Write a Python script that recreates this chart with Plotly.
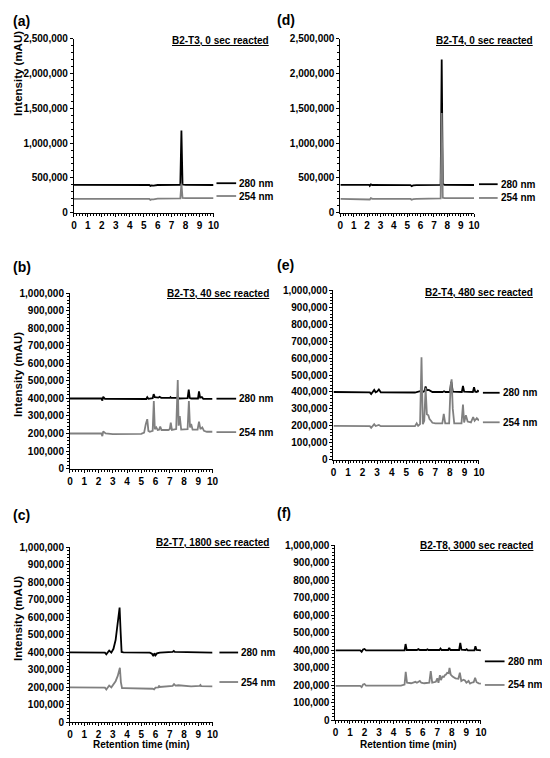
import plotly.graph_objects as go

# ---- chromatogram data (retention time in min, intensity in mAU) ----
# (a) B2-T3, 0 sec
a_t280 = [0, 2.3, 2.38, 2.45, 5.4, 5.48, 5.55, 5.7, 6.0, 7.62, 7.7, 7.78, 8.0, 10]
a_i280 = [400000, 400000, 408000, 400000, 398000, 385000, 392000, 390000, 398000, 400000, 1180000, 405000, 400000, 398000]
a_t254 = [0, 2.3, 2.38, 2.45, 5.4, 5.48, 5.55, 5.7, 6.0, 7.62, 7.7, 7.78, 8.0, 10]
a_i254 = [200000, 200000, 206000, 200000, 198000, 185000, 192000, 192000, 202000, 205000, 420000, 212000, 210000, 210000]

# (d) B2-T4, 0 sec
d_t280 = [0, 2.15, 2.2, 2.28, 2.4, 5.25, 5.33, 5.45, 5.7, 7.5, 7.58, 7.66, 7.8, 10]
d_i280 = [400000, 400000, 385000, 408000, 398000, 396000, 382000, 392000, 395000, 400000, 2200000, 410000, 400000, 398000]
d_t254 = [0, 2.15, 2.2, 2.28, 2.4, 5.25, 5.33, 5.45, 5.7, 7.5, 7.58, 7.66, 7.8, 10]
d_i254 = [200000, 200000, 190000, 210000, 200000, 198000, 186000, 195000, 198000, 205000, 1430000, 215000, 210000, 210000]

# (b) B2-T3, 40 sec
b_t280 = [0, 2.2, 2.27, 2.33, 2.45, 5.0, 5.35, 5.42, 5.5, 5.8, 5.87, 5.95, 6.2, 6.28, 6.4,
          7.0, 7.05, 7.1, 7.5, 7.57, 7.65, 8.25, 8.33, 8.4, 8.5, 8.98, 9.05, 9.13, 9.25, 9.35, 10]
b_i280 = [400000, 400000, 388000, 410000, 398000, 397000, 397000, 407000, 398000, 402000, 425000, 408000,
          405000, 410000, 404000, 403000, 408000, 403000, 403000, 410000, 400000, 402000, 450000, 403000,
          400000, 400000, 440000, 405000, 408000, 398000, 398000]
b_t254 = [0, 2.2, 2.27, 2.33, 2.5, 3.0, 5.0, 5.2, 5.32, 5.42, 5.5, 5.6, 5.8, 5.88, 5.95, 6.05, 6.15,
          6.25, 6.33, 6.42, 6.9, 7.0, 7.07, 7.15, 7.45, 7.56, 7.62, 7.7, 7.8, 8.25, 8.34, 8.42, 8.5, 8.6,
          8.95, 9.05, 9.15, 9.28, 9.4, 9.6, 10]
b_i254 = [200000, 200000, 185000, 212000, 200000, 196000, 198000, 205000, 255000, 282000, 215000, 210000,
          215000, 385000, 225000, 235000, 220000, 222000, 240000, 220000, 220000, 225000, 262000, 220000,
          225000, 505000, 245000, 300000, 222000, 225000, 385000, 235000, 255000, 222000,
          222000, 268000, 225000, 235000, 215000, 210000, 210000]

# (e) B2-T4, 480 sec
e_t280 = [0, 2.5, 2.59, 2.7, 2.8, 2.9, 3.0, 3.12, 3.25, 5.6, 5.8, 5.95, 6.1, 6.25, 6.33, 6.42, 6.55,
          6.7, 6.8, 7.5, 7.6, 7.7, 8.0, 8.1, 8.2, 8.82, 8.9, 8.98, 9.58, 9.66, 9.74, 9.85, 9.92, 10]
e_i280 = [400000, 398000, 388000, 400000, 412000, 398000, 402000, 415000, 398000, 397000, 400000, 405000,
          398000, 405000, 432000, 410000, 412000, 405000, 400000, 400000, 404000, 400000, 400000, 460000,
          402000, 400000, 436000, 402000, 400000, 428000, 402000, 400000, 407000, 402000]
e_t254 = [0, 2.5, 2.59, 2.7, 2.8, 2.9, 3.0, 3.12, 3.25, 5.6, 5.72, 5.82, 5.95, 6.05, 6.14, 6.24, 6.33,
          6.42, 6.52, 6.6, 6.7, 6.8, 7.0, 7.48, 7.58, 7.68, 7.95, 8.05, 8.12, 8.2, 8.3, 8.8, 8.9, 8.98,
          9.1, 9.22, 9.45, 9.6, 9.7, 9.85, 9.95, 10]
e_i254 = [200000, 198000, 188000, 202000, 210000, 199000, 200000, 205000, 198000, 198000, 215000, 200000,
          210000, 605000, 210000, 230000, 425000, 268000, 262000, 240000, 230000, 218000, 215000, 215000,
          271000, 215000, 215000, 440000, 475000, 300000, 215000, 215000, 325000, 220000, 262000, 225000,
          220000, 252000, 230000, 245000, 235000, 240000]

# (c) B2-T7, 1800 sec
c_t280 = [0, 2.45, 2.55, 2.65, 2.75, 2.9, 3.05, 3.2, 3.32, 3.42, 3.48, 3.55, 3.62, 3.75, 5.6, 5.75,
          5.85, 5.92, 6.0, 6.1, 6.3, 7.2, 7.28, 7.35, 8.5, 10]
c_i280 = [400000, 398000, 388000, 398000, 410000, 398000, 420000, 470000, 540000, 610000, 655000, 520000,
          402000, 400000, 398000, 392000, 378000, 395000, 383000, 394000, 398000, 402000, 408000, 402000,
          400000, 398000]
c_t254 = [0, 2.45, 2.55, 2.65, 2.75, 2.9, 3.05, 3.2, 3.35, 3.5, 3.57, 3.65, 3.8, 5.6, 5.8, 5.9, 6.0,
          6.2, 6.25, 6.3, 7.2, 7.3, 7.4, 7.6, 8.5, 9.1, 9.15, 9.2, 10]
c_i254 = [200000, 198000, 188000, 198000, 210000, 200000, 215000, 235000, 265000, 312000, 230000, 195000,
          195000, 196000, 192000, 188000, 198000, 200000, 210000, 202000, 208000, 218000, 210000, 212000,
          205000, 208000, 213000, 207000, 206000]

# (f) B2-T8, 3000 sec
f_t280 = [0, 1.7, 1.8, 1.9, 2.0, 2.1, 4.75, 4.82, 4.9, 5.6, 5.7, 5.8, 6.25, 6.32, 6.4, 7.15, 7.22, 7.3,
          7.75, 7.82, 7.9, 8.5, 8.58, 8.66, 8.95, 9.02, 9.1, 9.55, 9.62, 9.7, 10]
f_i280 = [400000, 400000, 392000, 405000, 408000, 400000, 400000, 436000, 402000, 402000, 407000, 402000,
          402000, 406000, 402000, 402000, 410000, 402000, 402000, 414000, 402000, 402000, 442000, 404000,
          402000, 407000, 400000, 400000, 424000, 402000, 400000]
f_t254 = [0, 1.7, 1.8, 1.9, 2.0, 2.1, 4.5, 4.75, 4.83, 4.92, 5.2, 5.5, 5.6, 5.8, 5.9, 6.1, 6.45, 6.55,
          6.65, 6.9, 7.0, 7.08, 7.18, 7.25, 7.35, 7.45, 7.52, 7.6, 7.68, 7.78, 7.84, 7.92, 8.05, 8.25,
          8.45, 8.55, 8.65, 8.8, 8.9, 9.0, 9.15, 9.25, 9.35, 9.5, 9.6, 9.7, 9.85, 10]
f_i254 = [197000, 197000, 190000, 205000, 208000, 198000, 198000, 205000, 277000, 215000, 212000, 220000,
          215000, 225000, 215000, 212000, 215000, 281000, 215000, 220000, 240000, 215000, 258000, 230000,
          250000, 248000, 258000, 262000, 272000, 270000, 300000, 262000, 250000, 240000, 238000, 272000,
          225000, 232000, 228000, 215000, 225000, 210000, 215000, 218000, 243000, 218000, 212000, 210000]

# the page body keeps its 8px margin on every side, so the figure is shrunk to fit inside it
OFF = 8
W, H = 550 - 2 * OFF, 758 - 2 * OFF
BLACK = "#000000"
GRAY = "#808080"
FONT = "Liberation Sans, Arial, sans-serif"


def px(x):
    return (x - OFF) / W


def py(y):
    return 1 - (y - OFF) / H


# box = (left, right, top, bottom) of the plot area in window pixels
panels = [
    dict(letter="(a)", title="B2-T3, 0 sec reacted", data=(a_t280, a_i280, a_t254, a_i254),
         box=(72, 214, 33, 210), ymax=2500000, ydt=500000, lab=(8, 15), ttl=(272, 35),
         leg=(217, 237, 180, 193), ytitle=68, xtitle=False),
    dict(letter="(d)", title="B2-T4, 0 sec reacted", data=(d_t280, d_i280, d_t254, d_i254),
         box=(343, 479, 33, 210), ymax=2500000, ydt=500000, lab=(277, 14), ttl=(541, 35),
         leg=(484, 503, 181, 195), ytitle=None, xtitle=False),
    dict(letter="(b)", title="B2-T3, 40 sec reacted", data=(b_t280, b_i280, b_t254, b_i254),
         box=(68, 213, 292, 470), ymax=1000000, ydt=100000, lab=(8, 265), ttl=(272, 292),
         leg=(217, 237, 399, 433), ytitle=374, xtitle=False),
    dict(letter="(e)", title="B2-T4, 480 sec reacted", data=(e_t280, e_i280, e_t254, e_i254),
         box=(336, 484, 289, 461), ymax=1000000, ydt=100000, lab=(277, 263), ttl=(541, 291),
         leg=(488, 505, 393, 423), ytitle=None, xtitle=False),
    dict(letter="(c)", title="B2-T7, 1800 sec reacted", data=(c_t280, c_i280, c_t254, c_i254),
         box=(68, 213, 550, 728), ymax=1000000, ydt=100000, lab=(8, 517), ttl=(272, 545),
         leg=(220, 239, 657, 687), ytitle=622, xtitle=True),
    dict(letter="(f)", title="B2-T8, 3000 sec reacted", data=(f_t280, f_i280, f_t254, f_i254),
         box=(338, 486, 548, 726), ymax=1000000, ydt=100000, lab=(277, 515), ttl=(541, 548),
         leg=(490, 510, 666, 690), ytitle=None, xtitle=True),
]

fig = go.Figure()
annotations = []
shapes = []
tick_font = dict(family=FONT, size=10, color="black", weight="bold")

for i, p in enumerate(panels, start=1):
    sfx = "" if i == 1 else str(i)
    t280, i280, t254, i254 = p["data"]
    fig.add_trace(go.Scatter(x=t280, y=i280, mode="lines", line=dict(color=BLACK, width=1.8),
                             xaxis="x" + sfx, yaxis="y" + sfx, showlegend=False, hoverinfo="skip"))
    fig.add_trace(go.Scatter(x=t254, y=i254, mode="lines", line=dict(color=GRAY, width=1.8),
                             xaxis="x" + sfx, yaxis="y" + sfx, showlegend=False, hoverinfo="skip"))

    left, right, top, bottom = p["box"]
    fig.update_layout({
        "xaxis" + sfx: dict(
            domain=[px(left), px(right)], anchor="y" + sfx, range=[0, 10], dtick=1,
            showline=True, linecolor="black", linewidth=1, showgrid=False, zeroline=False,
            ticks="outside", ticklen=3, tickcolor="black", tickfont=tick_font,
            minor=dict(dtick=0.2, ticks="outside", ticklen=2, tickcolor="black", showgrid=False),
        ),
        "yaxis" + sfx: dict(
            domain=[py(bottom), py(top)], anchor="x" + sfx, range=[0, p["ymax"]], dtick=p["ydt"],
            tickformat=",d", showline=True, linecolor="black", linewidth=1, showgrid=False,
            zeroline=False, ticks="outside", ticklen=3, tickcolor="black", tickfont=tick_font,
            minor=dict(dtick=p["ydt"] / 5, ticks="outside", ticklen=2, tickcolor="black",
                       showgrid=False),
        ),
    })

    # panel letter
    annotations.append(dict(text=p["letter"], x=px(p["lab"][0]), y=py(p["lab"][1]), xref="paper",
                            yref="paper", xanchor="left", yanchor="middle", showarrow=False,
                            font=dict(family=FONT, size=14, color="black", weight="bold")))
    # sample title
    annotations.append(dict(text="<u>" + p["title"] + "</u>", x=px(p["ttl"][0]), y=py(p["ttl"][1]),
                            xref="paper", yref="paper", xanchor="right", yanchor="middle",
                            showarrow=False,
                            font=dict(family=FONT, size=10, color="black", weight="bold")))
    # wavelength keys
    x0, x1, y280, y254 = p["leg"]
    for yy, col, lbl in [(y280, BLACK, "280 nm"), (y254, GRAY, "254 nm")]:
        shapes.append(dict(type="line", xref="paper", yref="paper", x0=px(x0), x1=px(x1),
                           y0=py(yy), y1=py(yy), line=dict(color=col, width=1.8)))
        annotations.append(dict(text=lbl, x=px(x1 + 1), y=py(yy), xref="paper", yref="paper",
                                xanchor="left", yanchor="middle", showarrow=False,
                                font=dict(family=FONT, size=10, color="black", weight="bold")))
    if p["ytitle"] is not None:
        annotations.append(dict(text="Intensity (mAU)", x=px(15), y=py(p["ytitle"]), xref="paper",
                                yref="paper", xanchor="center", yanchor="middle", textangle=-90,
                                showarrow=False,
                                font=dict(family=FONT, size=11.5, color="black", weight="bold")))
    if p["xtitle"]:
        annotations.append(dict(text="Retention time (min)", x=px((left + right) / 2),
                                y=py(750), xref="paper", yref="paper", xanchor="center",
                                yanchor="middle", showarrow=False,
                                font=dict(family=FONT, size=10, color="black", weight="bold")))

fig.update_layout(
    width=W, height=H,
    margin=dict(l=0, r=0, t=0, b=0),
    paper_bgcolor="white", plot_bgcolor="white",
    annotations=annotations, shapes=shapes,
    showlegend=False,
)

fig.write_html("out.html")
